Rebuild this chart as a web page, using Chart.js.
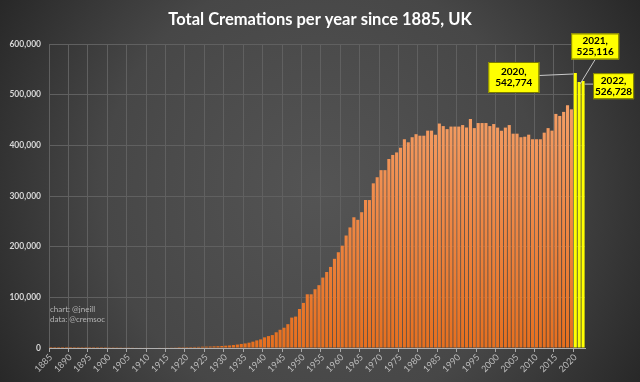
<!DOCTYPE html>
<html>
<head>
<meta charset="utf-8">
<script src="https://cdn.jsdelivr.net/npm/chart.js@4"></script>
<style>
  html,body{margin:0;padding:0;background:#2a2a2a;}
  #wrap{width:640px;height:382px;position:relative;}
</style>
</head>
<body>
<div id="wrap"><canvas id="c" width="640" height="382"></canvas></div>
<script>
// ---- data ----
const firstYear = 1885;
const years = Array.from({length: 138}, (_, i) => String(firstYear + i));
const cremations = [
  // 1885-1894
  3, 10, 13, 28, 46, 54, 99, 104, 172, 125,
  // 1895-1904
  150, 137, 173, 240, 240, 444, 427, 463, 536, 643,
  // 1905-1914
  604, 739, 834, 848, 864, 840, 1003, 1040, 1140, 1094,
  // 1915-1924
  1150, 1270, 1386, 1795, 1702, 1796, 1922, 2085, 2211, 2536,
  // 1925-1934
  2701, 2877, 3257, 3500, 4000, 4500, 5000, 5800, 6800, 8000,
  // 1935-1944
  9000, 10500, 12500, 15000, 17000, 21000, 23500, 25500, 31000, 36000,
  // 1945-1954
  40000, 47000, 60000, 62000, 77000, 89000, 106000, 106000, 116000, 124000,
  // 1955-1964
  139000, 150000, 160000, 176000, 189000, 202000, 222000, 238000, 258000, 253000,
  // 1965-1974
  268000, 292000, 292000, 325000, 337000, 351000, 351000, 373000, 381000, 386000,
  // 1975-1984
  395000, 412000, 406000, 416000, 422000, 419000, 419000, 429000, 429000, 421000,
  // 1985-1994
  443000, 438000, 432000, 437000, 437000, 437000, 440000, 435000, 452000, 434000,
  // 1995-2004
  444000, 444000, 444000, 438000, 442000, 435000, 429000, 435000, 440000, 423000,
  // 2005-2014
  423000, 416000, 417000, 421000, 412000, 412000, 412000, 425000, 434000, 429000,
  // 2015-2022
  462000, 458000, 466000, 479000, 471000, 542774, 525116, 526728
];
const highlightYears = ['2020', '2021', '2022'];
const yMin = 0;
const yMax = 600000;
const yStep = 100000;
const tickEvery = 5;
const titleText = 'Total Cremations per year since 1885, UK';
const creditLines = ['chart: @jneill', 'data: @cremsoc'];

const FONT = 'Lato, "Liberation Sans", sans-serif';

// ---- plugins ----
const bgPlugin = {
  id: 'bg',
  beforeDraw(chart) {
    const {ctx, width, height} = chart;
    ctx.save();
    const g = ctx.createRadialGradient(width/2, height/2, 0, width/2, height/2, width*0.62);
    g.addColorStop(0, '#545454');
    g.addColorStop(0.55, '#474747');
    g.addColorStop(1, '#232323');
    ctx.fillStyle = g;
    ctx.fillRect(0, 0, width, height);
    // title centred on the full canvas
    ctx.fillStyle = '#ffffff';
    ctx.font = 'bold 16.5px ' + FONT;
    ctx.textAlign = 'center';
    ctx.textBaseline = 'middle';
    ctx.fillText(titleText, width / 2, 20);
    ctx.restore();
  }
};

const fmt = v => v.toLocaleString('en-US');

const annotPlugin = {
  id: 'annot',
  afterDraw(chart) {
    const {ctx, chartArea} = chart;
    const meta = chart.getDatasetMeta(0);
    ctx.save();
    // credits
    ctx.font = '8px ' + FONT;
    ctx.fillStyle = '#b4b4b4';
    ctx.textAlign = 'left';
    ctx.textBaseline = 'middle';
    creditLines.forEach((t, i) => ctx.fillText(t, chartArea.left + 1, chartArea.bottom - 39 + i * 10.5));

    // callouts: layout per highlighted year (offsets relative to bar top)
    const layout = {
      '2020': {dx: -61.5, dy: 4.5, w: 51, h: 31, link: (b, bx) => [[bx.x + bx.w/2, b.y + 2.5], [b.x - 2, b.y + 1]]},
      '2021': {dx: 16, dy: -35.5, w: 48, h: 26, link: (b, bx) => [[b.x + 1, b.y + 2], [bx.cx, bx.y + bx.h/2]]},
      '2022': {dx: 30.5, dy: 5, w: 41, h: 26, link: (b, bx) => [[b.x + 1.5, b.y + 3], [bx.x - bx.w/2, b.y + 3]]}
    };
    highlightYears.forEach(yr => {
      const i = years.indexOf(yr);
      const bar = meta.data[i];
      if (!bar) return;
      const L = layout[yr];
      const cx = bar.x + L.dx, cy = bar.y + L.dy;
      const box = {x: cx, y: cy, cx, w: L.w, h: L.h};
      const [p1, p2] = L.link(bar, box);
      ctx.strokeStyle = '#c8c8c8';
      ctx.lineWidth = 1;
      ctx.beginPath();
      ctx.moveTo(p1[0], p1[1]);
      ctx.lineTo(p2[0], p2[1]);
      ctx.stroke();
      ctx.fillStyle = '#ffff00';
      ctx.fillRect(cx - L.w/2, cy - L.h/2, L.w, L.h);
      ctx.strokeStyle = '#7a7a00';
      ctx.strokeRect(cx - L.w/2 + 0.5, cy - L.h/2 + 0.5, L.w - 1, L.h - 1);
      ctx.fillStyle = '#000';
      ctx.font = 'bold 10px ' + FONT;
      ctx.textAlign = 'center';
      ctx.textBaseline = 'middle';
      ctx.fillText(yr + ',', cx, cy - 5.5);
      ctx.fillText(fmt(cremations[i]), cx, cy + 5.5);
    });
    ctx.restore();
  }
};

let orangeGrad = null, gradKey = '';
function barColor(c) {
  const yr = years[c.dataIndex];
  if (highlightYears.includes(yr)) return '#ffff00';
  const ca = c.chart.chartArea;
  if (!ca) return '#ed7d31';
  const key = ca.top + '_' + ca.bottom;
  if (!orangeGrad || key !== gradKey) {
    orangeGrad = c.chart.ctx.createLinearGradient(0, ca.top, 0, ca.bottom);
    orangeGrad.addColorStop(0, '#f6ab78');
    orangeGrad.addColorStop(0.5, '#f08c4c');
    orangeGrad.addColorStop(1, '#e66f1e');
    gradKey = key;
  }
  return orangeGrad;
}

new Chart(document.getElementById('c'), {
  type: 'bar',
  data: {
    labels: years,
    datasets: [{
      data: cremations,
      backgroundColor: barColor,
      borderWidth: 0,
      barPercentage: 0.8,
      categoryPercentage: 1.0
    }]
  },
  options: {
    responsive: false,
    animation: false,
    devicePixelRatio: 1,
    layout: {padding: {left: 0, right: 55, top: 44, bottom: 0}},
    plugins: {
      legend: {display: false},
      tooltip: {enabled: false},
      title: {display: false}
    },
    scales: {
      x: {
        offset: true,
        grid: {
          offset: true,
          color: c => (c.index % tickEvery === 0 ? '#606060' : 'rgba(0,0,0,0)'),
          tickColor: c => (c.index % tickEvery === 0 ? '#a8a8a8' : 'rgba(0,0,0,0)'),
          tickLength: 4,
          drawOnChartArea: true
        },
        border: {display: true, color: '#b0b0b0', width: 1},
        ticks: {
          autoSkip: false,
          maxRotation: 45,
          minRotation: 45,
          padding: 0,
          color: '#bdbdbd',
          font: {family: FONT, size: 9},
          callback: (v, i) => (i % tickEvery === 0 ? years[i] : '')
        },
        afterFit: s => { s.height = 34; }
      },
      y: {
        min: yMin,
        max: yMax,
        grid: {color: '#606060', drawTicks: false},
        border: {display: false},
        ticks: {
          stepSize: yStep,
          padding: 8,
          color: '#d6d6d6',
          font: {family: FONT, size: 8.5, weight: 'bold'},
          callback: v => fmt(v)
        },
        afterFit: s => { s.width = 49; }
      }
    }
  },
  plugins: [bgPlugin, annotPlugin]
});
</script>
</body>
</html>
